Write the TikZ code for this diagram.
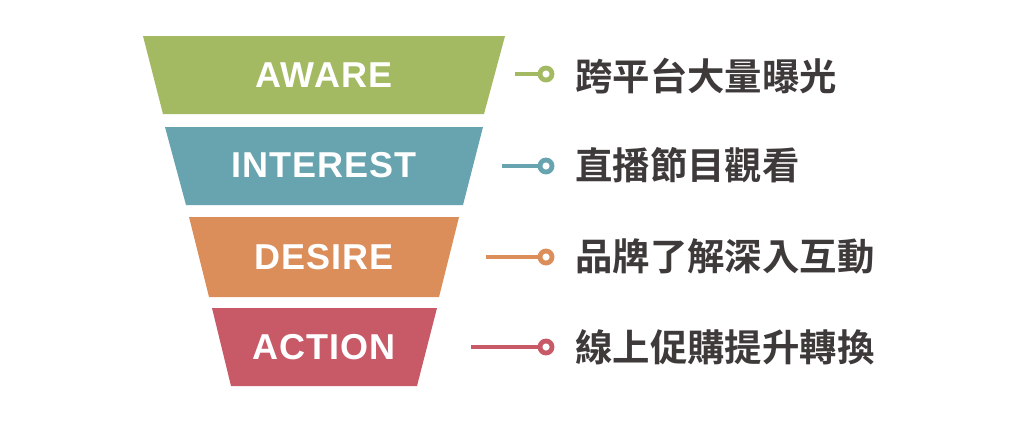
\documentclass[tikz,border=0pt]{standalone}
\usepackage{fontspec}
\setmainfont{Liberation Sans}
\newfontfamily\labfont[LetterSpace=3]{Liberation Sans Bold}
\newfontfamily\cjk{Noto Sans CJK TC Bold}
\definecolor{cgreen}{HTML}{A3BA63}
\definecolor{cteal}{HTML}{67A4B0}
\definecolor{corange}{HTML}{DB8D5A}
\definecolor{cred}{HTML}{C85A68}
\definecolor{ctext}{HTML}{3E3A39}
\begin{document}
\begin{tikzpicture}[x=1pt,y=-1pt,
  stage/.style={text=white,font=\labfont\fontsize{36}{40}\selectfont,inner sep=0pt},
  desc/.style={text=ctext,font=\cjk\fontsize{37.4}{42}\selectfont,anchor=west,inner sep=0pt},
  dot/.style={circle,draw=#1,line width=4.8pt,minimum size=12pt,inner sep=0pt,fill=white},
  link/.style={draw=#1,line width=4.5pt}]
\useasboundingbox (0,0) rectangle (1024,424);
\fill[white] (0,0) rectangle (1024,424);
% funnel
\fill[cgreen]  (143,36)  -- (505,36)  -- (484,114) -- (163,114) -- cycle;
\fill[cteal]   (165,127) -- (483,127) -- (463,205) -- (186,205) -- cycle;
\fill[corange] (189,217) -- (459,217) -- (439,297) -- (209,297) -- cycle;
\fill[cred]    (212,308) -- (437,308) -- (417,386) -- (231,386) -- cycle;
% labels
\node[stage] (s1) at (324,75)  {AWARE};
\node[stage] (s2) at (324,165) {INTEREST};
\node[stage] (s3) at (324,257) {DESIRE};
\node[stage] (s4) at (324,347) {ACTION};
% connectors
\coordinate (a1) at (515,74);
\coordinate (a2) at (502,166);
\coordinate (a3) at (486,257);
\coordinate (a4) at (471,347);
\node[dot=cgreen]  (d1) at (546,74)  {};
\node[dot=cteal]   (d2) at (546,166) {};
\node[dot=corange] (d3) at (546,257) {};
\node[dot=cred]    (d4) at (546,347) {};
\draw[link=cgreen]  (a1) -- (d1.west);
\draw[link=cteal]   (a2) -- (d2.west);
\draw[link=corange] (a3) -- (d3.west);
\draw[link=cred]    (a4) -- (d4.west);
% descriptions
\node[desc] (t1) at (575,76)  {跨平台大量曝光};
\node[desc] (t2) at (575,165) {直播節目觀看};
\node[desc] (t3) at (575,256) {品牌了解深入互動};
\node[desc] (t4) at (575,347) {線上促購提升轉換};
\end{tikzpicture}
\end{document}
